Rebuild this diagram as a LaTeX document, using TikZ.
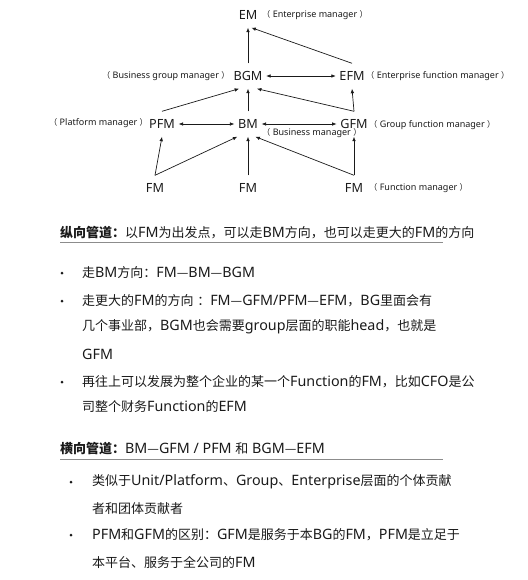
\documentclass[tikz,border=0pt]{standalone}
\usepackage{fontspec}
\setmainfont{Noto Sans}[Scale=1.1]
\newfontfamily\cjkfont{Noto Sans CJK SC}
\usepackage{tikz}
\usetikzlibrary{arrows.meta}
\usepackage{xcolor}
\definecolor{ink}{HTML}{1A1A1A}
\definecolor{rule}{HTML}{8C8C8C}
% CJK characters in their own font, Latin in the main font
\XeTeXinterchartokenstate=1
\newXeTeXintercharclass\cjkclass
\newcount\cjkc
\def\setcjkrange#1#2{\cjkc=#1\relax
  \loop\XeTeXcharclass\cjkc=\cjkclass\relax
  \ifnum\cjkc<#2\relax\advance\cjkc by 1\relax\repeat}
\setcjkrange{"4E00}{"9FFF}
\setcjkrange{"3000}{"303F}
\setcjkrange{"FF00}{"FFEF}
\XeTeXcharclass"2014=\cjkclass
\XeTeXinterchartoks 0 \cjkclass = {\cjkfont}
\XeTeXinterchartoks 4095 \cjkclass = {\cjkfont}
\XeTeXinterchartoks \cjkclass 0 = {\rmfamily}
\XeTeXinterchartoks \cjkclass 4095 = {\rmfamily}

\begin{document}
\begin{tikzpicture}[x=1pt,y=-1pt,
    role/.style={inner xsep=3.5pt,inner ysep=0pt,text height=9pt,text depth=0pt,minimum height=25pt,font=\fontsize{11.5}{14}\selectfont,text=ink},
    note/.style={inner sep=0pt,anchor=west,font=\fontsize{8.2}{10}\selectfont,text=ink},
    txt/.style={inner sep=0pt,anchor=west,font=\fontsize{13}{15}\selectfont,text=ink},
    dot/.style={circle,fill=ink,inner sep=0pt,minimum size=3pt},
    arrow/.style={-{Latex[length=4.5pt,width=3.6pt]},draw=ink,line width=0.7pt},
    both/.style={{Latex[length=4.5pt,width=3.6pt]}-{Latex[length=4.5pt,width=3.6pt]},draw=ink,line width=0.7pt}
]
    \useasboundingbox (0,0) rectangle (527,580);
    % Top: enterprise level
    \node[role] (em) at (248,15) {EM};
    \node[note] (emn) at (262,15) {（ Enterprise manager ）};
    % Second row: group level
    \node[role] (bgm) at (248,76) {BGM};
    \node[note] (bgmn) at (102,76) {（ Business group manager ）};
    \node[role] (efm) at (352,76) {EFM};
    \node[note] (efmn) at (366,76) {（ Enterprise function manager ）};
    % Third row: unit level
    \node[role] (pfm) at (162,124) {PFM};
    \node[note] (pfmn) at (49,123) {（ Platform manager ）};
    \node[role] (bm) at (248,124) {BM};
    \node[note] (bmn) at (262,133) {（ Business manager ）};
    \node[role] (gfm) at (354,124) {GFM};
    \node[note] (gfmn) at (369,125) {（ Group function manager ）};
    % Bottom row: function managers
    \node[role] (fma) at (155,188) {FM};
    \node[role] (fmb) at (248,188) {FM};
    \node[role] (fmc) at (354,188) {FM};
    \node[note] (fmcn) at (369,188) {（ Function manager ）};
    % Arrows
    \draw[arrow] (bgm.north) -- (em.south);
    \draw[arrow] (efm.north) -- (em.-75);
    \draw[both] (bgm) -- (efm);
    \draw[arrow] (pfm.north) -- (bgm.-125);
    \draw[arrow] (bm.north) -- (bgm.south);
    \draw[arrow] (gfm.north) -- (bgm.-55);
    \draw[arrow] (gfm.north) -- (efm.south);
    \draw[both] (pfm) -- (bm);
    \draw[both] (bm) -- (gfm);
    \draw[arrow] (fma.north) -- (pfm.south);
    \draw[arrow] (fma.north) -- (bm.-130);
    \draw[arrow] (fmb.north) -- (bm.south);
    \draw[arrow] (fmc.north) -- (bm.-60);
    \draw[arrow] (fmc.north) -- (gfm.south);
    % Vertical channel
    \node[txt] (va) at (60,233) {\textbf{纵向管道：}以FM为出发点，可以走BM方向，也可以走更大的FM的方向};
    \draw[rule,line width=0.8pt] (60,242) -- (443,242);
    \node[dot] (vb1) at (62,273) {};
    \node[txt] (vl1) at (82,273) {走BM方向：FM—BM—BGM};
    \node[dot] (vb2) at (62,301) {};
    \node[txt] (vl2) at (82,301) {走更大的FM的方向 ：FM—GFM/PFM—EFM，BG里面会有};
    \node[txt] (vl3) at (82,327) {几个事业部，BGM也会需要group层面的职能head，也就是};
    \node[txt] (vl4) at (82,354) {GFM};
    \node[dot] (vb3) at (62,382) {};
    \node[txt] (vl5) at (82,382) {再往上可以发展为整个企业的某一个Function的FM，比如CFO是公};
    \node[txt] (vl6) at (82,407) {司整个财务Function的EFM};
    % Horizontal channel
    \node[txt] (ha) at (60,449) {\textbf{横向管道：}BM—GFM / PFM 和 BGM—EFM};
    \draw[rule,line width=0.8pt] (60,459) -- (443,459);
    \node[dot] (hb1) at (71,482) {};
    \node[txt] (hl1) at (92,482) {类似于Unit/Platform、Group、Enterprise层面的个体贡献};
    \node[txt] (hl2) at (92,509) {者和团体贡献者};
    \node[dot] (hb2) at (71,535) {};
    \node[txt] (hl3) at (92,535) {PFM和GFM的区别：GFM是服务于本BG的FM，PFM是立足于};
    \node[txt] (hl4) at (92,562) {本平台、服务于全公司的FM};
\end{tikzpicture}
\end{document}
